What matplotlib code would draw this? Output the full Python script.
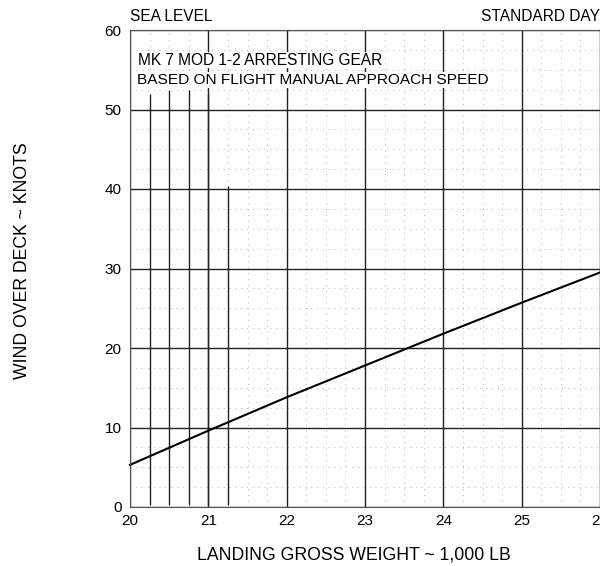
import matplotlib
matplotlib.use("Agg")
import matplotlib.pyplot as plt
import numpy as np

plt.rcParams['font.family'] = ['Liberation Sans', 'DejaVu Sans']

# Data
weight = [20, 21, 22, 23, 24, 25, 26]           # 1,000 lb
wod = [5.3, 9.6, 13.8, 17.8, 21.8, 25.7, 29.5]  # knots

limit_x = [20.25, 20.5, 20.75, 21.0, 21.25]
limit_top = [52, 52.5, 52.5, 52, 40.4]

xticks = [20, 21, 22, 23, 24, 25, 26]
yticks = [0, 10, 20, 30, 40, 50, 60]

fig = plt.figure(figsize=(6.0, 5.66), dpi=100)
ax = fig.add_axes([130/600, 59/566, 470/600, 477/566])

ax.set_xlim(20, 26)
ax.set_ylim(0, 60)
ax.set_xticks(xticks)
ax.set_yticks(yticks)
ax.set_xticks(np.arange(20, 26.01, 0.25), minor=True)
ax.set_yticks(np.arange(0, 60.01, 2.5), minor=True)

ax.grid(which='major', color='#222222', linewidth=1.0)
ax.grid(which='minor', color='#999999', linewidth=0.6, linestyle=(0, (1, 6)))
ax.set_axisbelow(True)

ax.tick_params(which='both', length=0)
ax.tick_params(axis='x', pad=5, labelsize=11)
ax.tick_params(axis='y', pad=6, labelsize=11)

for s in ax.spines.values():
    s.set_color('#555555')
    s.set_linewidth(0.8)

ax.vlines(limit_x, 0.3, limit_top, color='#222222', linewidth=1.0)
ax.plot(weight, wod, color='black', linewidth=1.5, clip_on=False)

ax.text(0.0, 1.012, 'SEA LEVEL', transform=ax.transAxes, ha='left', va='bottom', fontsize=11.2)
ax.text(1.0, 1.012, 'STANDARD DAY', transform=ax.transAxes, ha='right', va='bottom', fontsize=11.2)
ax.text(0.018, 0.937, 'MK 7 MOD 1-2 ARRESTING GEAR', transform=ax.transAxes, ha='left', va='center', fontsize=11.2,
        bbox=dict(facecolor='white', edgecolor='none', pad=0.5))
ax.text(0.015, 0.895, 'BASED ON FLIGHT MANUAL APPROACH SPEED', transform=ax.transAxes, ha='left', va='center', fontsize=11.1,
        bbox=dict(facecolor='white', edgecolor='none', pad=0.5))

fig.text(354/600, 1 - 555/566, 'LANDING GROSS WEIGHT ~ 1,000 LB', ha='center', va='center', fontsize=12.7)
fig.text(23/600, 1 - 261/566, 'WIND OVER DECK ~ KNOTS', ha='center', va='center', rotation=90, fontsize=12.7)

fig.savefig('out.png', dpi=100)
